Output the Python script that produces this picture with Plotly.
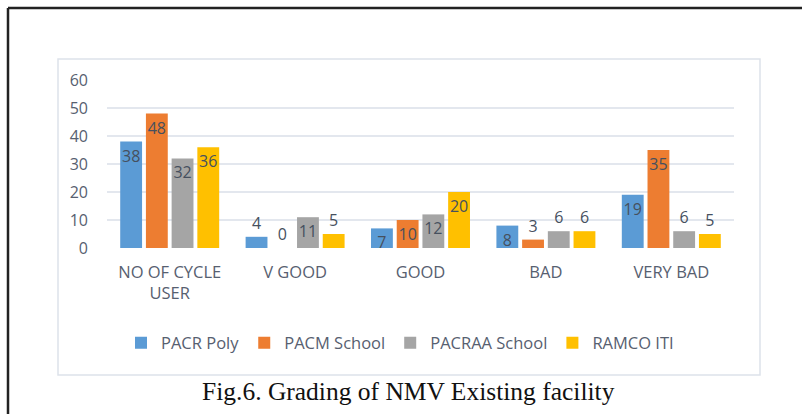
import plotly.graph_objects as go

categories = ["NO OF CYCLE<br>USER", "V GOOD", "GOOD", "BAD", "VERY BAD"]
series_names = ["PACR Poly", "PACM School", "PACRAA School", "RAMCO ITI"]
pacr_poly = [38, 4, 7, 8, 19]
pacm_school = [48, 0, 10, 3, 35]
pacraa_school = [32, 11, 12, 6, 6]
ramco_iti = [36, 5, 20, 6, 5]
y_ticks = [0, 10, 20, 30, 40, 50, 60]
caption = "Fig.6. Grading of NMV Existing facility"

colors = ["#5B9BD5", "#ED7D31", "#A5A5A5", "#FFC000"]
values = [pacr_poly, pacm_school, pacraa_school, ramco_iti]

W, H = 802, 414
L, R, T, B = 107, 734, 80, 248  # plot area in pixels


def px(x):
    return (x - L) / (R - L)


def py(y):
    return (B - y) / (B - T)


fig = go.Figure()
for name, vals, c in zip(series_names, values, colors):
    fig.add_trace(go.Bar(
        name=name, x=categories, y=vals,
        marker=dict(color=c, line=dict(width=0)),
        text=[str(v) for v in vals],
        textposition=["inside" if v >= 7 else "outside" for v in vals], textangle=0,
        textfont=dict(family="Open Sans", size=16, color="#46505e"),
        insidetextanchor="end", cliponaxis=False,
    ))

shapes = [
    # outer black frame (left and top)
    dict(type="line", xref="paper", yref="paper", x0=px(8), x1=px(8), y0=py(8), y1=py(414),
         line=dict(color="#222222", width=2.5)),
    dict(type="line", xref="paper", yref="paper", x0=px(8), x1=px(802), y0=py(8), y1=py(8),
         line=dict(color="#222222", width=2.5)),
    # inner chart box
    dict(type="rect", xref="paper", yref="paper", x0=px(58), x1=px(760), y0=py(375), y1=py(59),
         line=dict(color="#DDE2EA", width=1.5), layer="below"),
]

fig.update_layout(
    width=W, height=H,
    margin=dict(l=L, r=W - R, t=T, b=H - B, pad=0),
    paper_bgcolor="white", plot_bgcolor="white",
    barmode="group", bargap=0.18, bargroupgap=0.15,
    uniformtext=dict(minsize=16, mode="show"),
    font=dict(family="Open Sans", color="#576070"),
    xaxis=dict(showgrid=False, showline=False, ticks="", ticklabelstandoff=12,
               tickfont=dict(size=16.5, color="#576070")),
    yaxis=dict(range=[0, 60], tickvals=y_ticks, showgrid=True, gridcolor="#E3E7EE", gridwidth=1.5,
               zeroline=False, showline=False, ticks="", ticklabelstandoff=18,
               tickfont=dict(size=16, color="#576070")),
    legend=dict(orientation="h", x=px(400), xanchor="center", y=py(343), yanchor="middle",
                font=dict(size=16.5, color="#576070"), itemwidth=30, traceorder="normal"),
    shapes=shapes,
    annotations=[dict(text=caption, xref="paper", yref="paper", x=px(408), y=py(391),
                      xanchor="center", yanchor="middle", showarrow=False,
                      font=dict(family="Liberation Serif", size=25.5, color="#111111"))],
)

fig.write_html("out.html", config={"displayModeBar": False},
               post_script="document.body.style.margin='0';")
